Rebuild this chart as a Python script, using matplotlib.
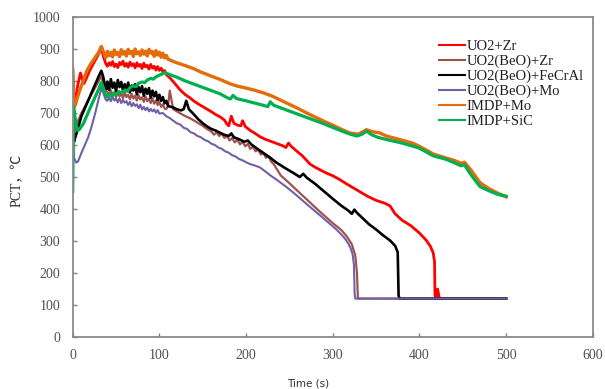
import numpy as np
import matplotlib
matplotlib.use('Agg')
import matplotlib.pyplot as plt

# (time s, PCT degC)
uo2_zr = [(0, 838), (0.7, 780), (1.5, 722), (3, 740), (6, 790), (9, 825), (11, 805), (13, 792), (16, 810),
          (20, 835), (25, 860), (30, 885), (33, 905), (35, 880), (38, 855),
          (40, 846), (42, 857), (44, 849), (46, 861), (48, 845), (50, 853), (52, 842), (54, 858), (56, 851),
          (58, 862), (60, 846), (62, 855), (64, 843), (66, 859), (68, 848), (70, 854), (72, 841), (74, 857),
          (76, 846), (78, 852), (80, 839), (82, 856), (84, 844), (86, 849), (88, 837), (90, 852), (92, 840),
          (94, 846), (96, 834), (98, 845), (100, 833), (102, 840), (104, 829), (106, 833), (108, 820),
          (112, 810), (116, 798), (120, 785), (124, 772), (130, 757), (135, 748), (140, 737), (145, 728),
          (150, 720), (155, 712), (160, 704), (165, 695), (170, 688), (175, 678), (178, 665), (180, 660),
          (183, 690), (186, 668), (190, 662), (194, 660), (196, 676), (199, 658), (205, 645), (210, 637),
          (216, 626), (222, 618), (228, 612), (235, 605), (242, 598), (246, 592), (249, 606), (252, 596),
          (258, 582), (265, 566), (274, 540), (280, 530), (287, 520), (293, 512), (300, 504), (308, 492),
          (315, 480), (320, 472), (330, 456), (340, 440), (350, 427), (360, 418), (366, 410), (372, 385),
          (380, 365), (390, 348), (400, 325), (408, 302), (413, 282), (416, 262), (417.5, 235), (418, 130),
          (419, 122), (421, 150), (423, 122), (425, 120), (500, 120)]

uo2beo_zr = [(0, 690), (0.5, 660), (1.5, 640), (3, 650), (6, 675), (10, 700), (15, 725), (20, 750), (25, 775),
             (30, 800), (33, 815), (35, 795), (37, 770),
             (40, 766), (42, 754), (44, 771), (46, 757), (48, 765), (50, 749), (52, 768), (54, 752), (56, 762),
             (58, 746), (60, 764), (62, 750), (64, 757), (66, 743), (68, 760), (70, 745), (72, 754), (74, 739),
             (76, 756), (78, 742), (80, 749), (82, 735), (84, 752), (86, 737), (88, 745), (90, 731), (92, 746),
             (94, 729), (96, 739), (98, 725), (100, 735), (102, 719), (104, 727), (106, 714),
             (108, 712), (110, 722), (112, 770), (114, 740), (116, 712), (122, 702), (126, 696), (130, 690),
             (135, 684), (139, 678), (145, 668), (150, 660), (155, 650), (160, 642), (163, 632), (166, 640),
             (169, 628), (172, 636), (175, 622), (178, 628), (181, 614), (184, 622), (187, 608), (190, 616),
             (193, 602), (196, 610), (199, 596), (202, 603), (205, 588), (208, 595), (211, 580), (214, 586),
             (217, 570), (220, 575), (223, 560), (226, 565), (229, 548), (232, 540), (240, 505), (251, 478),
             (262, 450), (270, 430), (281, 402), (290, 380), (300, 356), (310, 334), (316, 315), (322, 290),
             (326, 255), (328, 200), (329, 125), (330, 120), (500, 120)]

uo2beo_fecral = [(0, 700), (0.5, 640), (1.5, 610), (3, 625), (6, 650), (10, 690), (14, 715), (18, 740),
                 (22, 765), (26, 790), (30, 815), (33, 832), (35, 815), (37, 790), (39, 775),
                 (40, 798), (42, 772), (44, 806), (46, 779), (48, 795), (50, 768), (52, 803), (54, 781),
                 (56, 797), (58, 770), (60, 790), (62, 773), (64, 795), (66, 764), (68, 786), (70, 770),
                 (72, 790), (74, 758), (76, 781), (78, 765), (80, 784), (82, 754), (84, 776), (86, 760),
                 (88, 778), (90, 748), (92, 770), (94, 752), (96, 766), (98, 740), (100, 757), (102, 738),
                 (104, 750), (106, 730), (108, 738), (110, 722),
                 (115, 718), (120, 712), (125, 708), (128, 712), (131, 738), (134, 712), (140, 695), (145, 680),
                 (150, 668), (155, 658), (160, 650), (165, 645), (170, 638), (175, 632), (180, 628), (183, 636),
                 (186, 624), (192, 618), (198, 610), (202, 614), (206, 602), (212, 590), (220, 575), (228, 560),
                 (235, 545), (245, 528), (255, 512), (262, 500), (266, 510), (270, 498), (280, 478), (290, 455),
                 (300, 432), (310, 410), (318, 395), (322, 385), (325, 398), (328, 388), (335, 370), (342, 352),
                 (350, 336), (358, 318), (366, 302), (372, 285), (375, 265), (376, 130), (377, 120), (500, 120)]

uo2beo_mo = [(0, 700), (0.7, 610), (1.5, 560), (4, 545), (6, 548), (10, 575), (14, 600), (18, 625), (22, 660),
             (26, 700), (30, 745), (33, 778), (35, 765), (38, 742), (40, 738),
             (42, 748), (44, 737), (46, 751), (48, 739), (50, 745), (52, 733), (54, 746), (56, 731), (58, 741),
             (60, 732), (62, 737), (64, 725), (66, 735), (68, 721), (70, 731), (72, 722), (74, 727), (76, 715),
             (78, 726), (80, 711), (82, 719), (84, 709), (86, 717), (88, 705), (90, 713), (92, 705), (94, 711),
             (96, 701), (98, 709), (100, 698), (104, 700), (108, 690),
             (112, 684), (116, 676), (120, 668), (124, 664), (128, 654), (132, 650), (136, 640), (140, 636),
             (144, 628), (148, 624), (152, 616), (156, 612), (160, 604), (164, 600), (168, 592), (172, 588),
             (176, 580), (180, 576), (184, 568), (188, 564), (192, 556), (196, 552), (200, 546), (205, 540),
             (210, 536), (216, 530), (222, 518), (228, 505), (234, 494), (240, 482), (246, 470), (251, 459),
             (256, 448), (262, 434), (268, 420), (274, 406), (281, 390), (288, 374), (294, 360), (300, 346),
             (305, 334), (310, 320), (314, 308), (318, 292), (321, 275), (323, 258), (324.5, 225),
             (325.3, 135), (326, 120), (500, 120)]

imdp_mo = [(0, 835), (0.7, 760), (1.5, 720), (3, 725), (5, 745), (8, 770), (12, 800), (16, 830), (20, 850),
           (25, 870), (30, 890), (33, 908), (35, 895), (37, 880),
           (38, 872), (40, 893), (42, 879), (44, 890), (46, 875), (48, 897), (50, 883), (52, 889), (54, 876),
           (56, 898), (58, 884), (60, 892), (62, 878), (64, 899), (66, 886), (68, 893), (70, 877), (72, 900),
           (74, 885), (76, 891), (78, 880), (80, 897), (82, 884), (84, 893), (86, 878), (88, 899), (90, 887),
           (92, 892), (94, 877), (96, 895), (98, 881), (100, 890), (102, 874), (104, 887), (106, 872),
           (108, 880), (110, 868),
           (120, 857), (130, 848), (140, 838), (147, 829), (160, 815), (170, 805), (180, 793), (185, 788),
           (190, 784), (200, 778), (210, 771), (216, 766), (220, 763), (230, 753), (240, 740), (250, 727),
           (260, 714), (270, 700), (280, 687), (290, 674), (300, 662), (310, 649), (320, 637), (330, 634),
           (339, 648), (345, 642), (354, 638), (362, 628), (380, 615), (393, 605), (400, 596), (416, 572),
           (430, 560), (440, 552), (448, 543), (452, 546), (460, 520), (470, 482), (480, 464), (490, 450),
           (500, 438)]

imdp_sic = [(0, 455), (0.5, 600), (1, 720), (2, 700), (4, 660), (6, 645), (8, 650), (12, 665), (16, 690),
            (20, 715), (25, 745), (30, 775), (33, 795), (35, 780), (38, 755), (40, 750),
            (42, 758), (45, 752), (48, 762), (50, 757), (53, 767), (56, 763), (60, 772), (63, 768), (66, 779),
            (70, 785), (73, 782), (76, 793), (80, 797), (83, 795), (86, 803), (90, 808), (93, 806), (96, 813),
            (100, 818), (103, 822), (106, 826), (110, 822),
            (120, 812), (130, 800), (140, 790), (150, 780), (160, 770), (170, 760), (178, 748), (182, 744),
            (185, 755), (189, 745), (200, 738), (210, 731), (220, 724), (225, 720), (228, 735), (232, 724),
            (240, 716), (250, 706), (260, 696), (270, 686), (280, 676), (290, 666), (300, 655), (310, 644),
            (320, 634), (328, 628), (334, 634), (339, 643), (345, 632), (352, 624), (362, 617), (380, 606),
            (393, 596), (400, 590), (416, 566), (430, 556), (440, 545), (448, 535), (452, 538), (460, 505),
            (470, 470), (480, 457), (490, 446), (500, 440)]

series = [
    ('UO2+Zr', uo2_zr, '#ff0000', 2.0),
    ('UO2(BeO)+Zr', uo2beo_zr, '#a0524d', 1.6),
    ('UO2(BeO)+FeCrAl', uo2beo_fecral, '#000000', 1.9),
    ('UO2(BeO)+Mo', uo2beo_mo, '#7060a8', 1.5),
    ('IMDP+Mo', imdp_mo, '#e46c0a', 2.4),
    ('IMDP+SiC', imdp_sic, '#00b050', 2.3),
]

serif = ['Liberation Serif', 'DejaVu Serif']
fig = plt.figure(figsize=(6.05, 3.89), dpi=100)
ax = fig.add_axes([0.1202, 0.1337, 0.8595, 0.8226])

for name, pts, color, lw in series:
    arr = np.array(pts, dtype=float)
    ax.plot(arr[:, 0], arr[:, 1], color=color, lw=lw, label=name)

ax.set_xlim(0, 600)
ax.set_ylim(0, 1000)
ax.set_xticks(range(0, 601, 100))
ax.set_yticks(range(0, 1001, 100))
ax.tick_params(direction='in', length=3, width=1, color='#808080', labelcolor='#505050', labelsize=10, pad=9)
for lab in ax.get_xticklabels() + ax.get_yticklabels():
    lab.set_family(serif)
for sp in ax.spines.values():
    sp.set_color('#8a8a8a')
    sp.set_linewidth(1.3)

leg = ax.legend(loc='upper left', bbox_to_anchor=(432 / 605, 1 - 33 / 389), bbox_transform=fig.transFigure,
                frameon=False, handlelength=1.75, handletextpad=0.1, labelspacing=0.1, borderpad=0,
                prop={'family': serif, 'size': 10.5})
for line in leg.get_lines():
    line.set_linewidth(1.5)
for txt in leg.get_texts():
    txt.set_color('#202020')

fig.text(308 / 605, 1 - 383 / 389, 'Time (s)', ha='center', va='center', fontsize=7.5,
         family='DejaVu Sans', color='#303030')
fig.text(17 / 605, 1 - 180 / 389, 'PCT，℃', rotation=90, ha='center', va='center', fontsize=10,
         family=['Liberation Serif', 'Noto Sans CJK SC'], color='#303030')

fig.savefig('out.png', dpi=100)
